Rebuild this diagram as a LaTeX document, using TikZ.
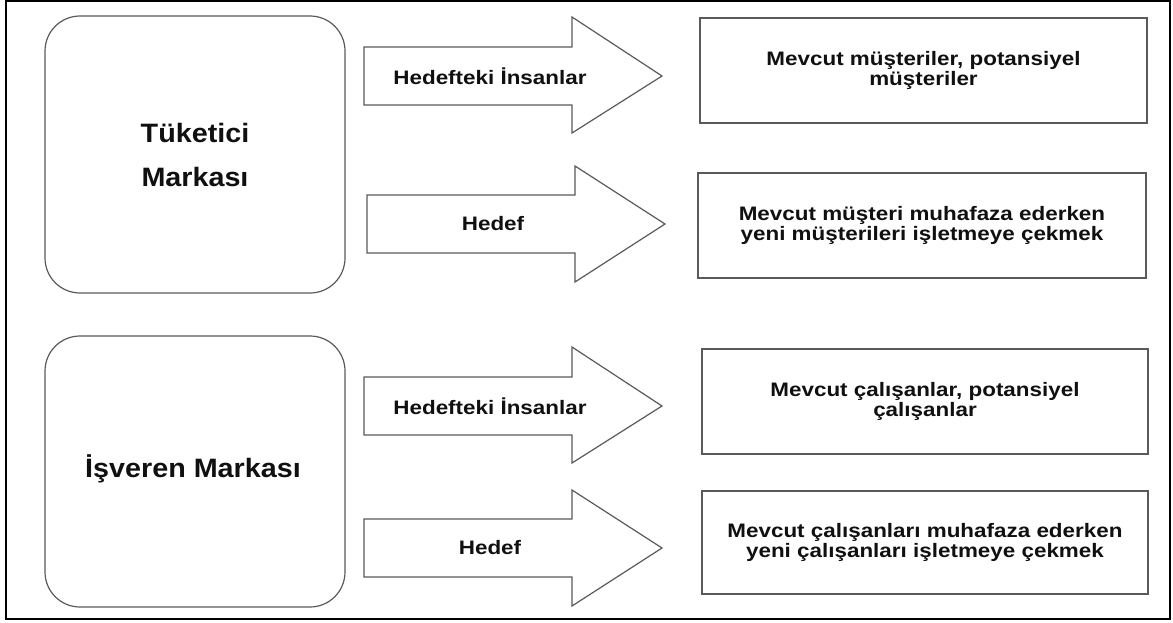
\documentclass[tikz,border=0pt]{standalone}
\usepackage{fontspec}
\newfontfamily\labfont[FakeStretch=1.15]{Liberation Sans}
\newfontfamily\brandfont[FakeStretch=1.08]{Liberation Sans}
\definecolor{edge}{HTML}{5A5A5A}
\definecolor{ink}{HTML}{101010}
\tikzset{
  brand/.style={draw=edge, line width=1.2pt, rounded corners=35pt, minimum width=300pt, inner sep=0pt, align=center, text=ink, font=\brandfont\bfseries\fontsize{26.6}{44}\selectfont},
  infobox/.style={draw=edge, line width=1.2pt, inner sep=0pt, align=center, text=ink, font=\labfont\bfseries\fontsize{19.5}{20.5}\selectfont},
  bigarrow/.style={draw=edge, line width=1.2pt, fill=white, line join=miter},
  arrowlabel/.style={text=ink, inner sep=0pt, font=\labfont\bfseries\fontsize{19.5}{21}\selectfont}
}
\begin{document}
\begin{tikzpicture}[x=1pt,y=-1pt]
\useasboundingbox (0,0) rectangle (1173,623);
\fill[white] (0,0) rectangle (1173,623);
\draw[line width=2pt, black] (6,1.5) rectangle (1170,618.5);

% left brand boxes
\node[brand, minimum height=277pt] (tk) at (195,154.5) {Tüketici\\Markası};
\node[brand, minimum height=271pt] (is) at (195,471.5) {};
\node[text=ink, inner sep=0pt, font=\brandfont\bfseries\fontsize{26.6}{44}\selectfont] (ist) at (193,468.5) {İşveren Markası};

% arrows
\draw[bigarrow] (364,47) -- (572,47) -- (572,17) -- (662,76) -- (572,133) -- (572,105) -- (364,105) -- cycle;
\draw[bigarrow] (367,195) -- (575,195) -- (575,166) -- (665,224) -- (575,282) -- (575,253) -- (367,253) -- cycle;
\draw[bigarrow] (364,377) -- (572,377) -- (572,347) -- (662,406) -- (572,463) -- (572,435) -- (364,435) -- cycle;
\draw[bigarrow] (364,519) -- (572,519) -- (572,490) -- (662,548) -- (572,606) -- (572,577) -- (364,577) -- cycle;

\node[arrowlabel] (l1) at (490,76) {Hedefteki İnsanlar};
\node[arrowlabel] (l2) at (493,224) {Hedef};
\node[arrowlabel] (l3) at (490,406) {Hedefteki İnsanlar};
\node[arrowlabel] (l4) at (490,548) {Hedef};

% right boxes
\node[infobox, minimum width=447pt, minimum height=105pt] (c1) at (923.5,70.5) {Mevcut müşteriler, potansiyel\\müşteriler};
\node[infobox, minimum width=448pt, minimum height=105pt] (c2) at (922,225.5) {Mevcut müşteri muhafaza ederken\\yeni müşterileri  işletmeye çekmek};
\node[infobox, minimum width=446pt, minimum height=105pt] (c3) at (925,401.5) {Mevcut çalışanlar, potansiyel\\çalışanlar};
\node[infobox, minimum width=446pt, minimum height=103pt] (c4) at (925,542.5) {Mevcut çalışanları muhafaza ederken\\yeni çalışanları işletmeye çekmek};
\end{tikzpicture}
\end{document}
